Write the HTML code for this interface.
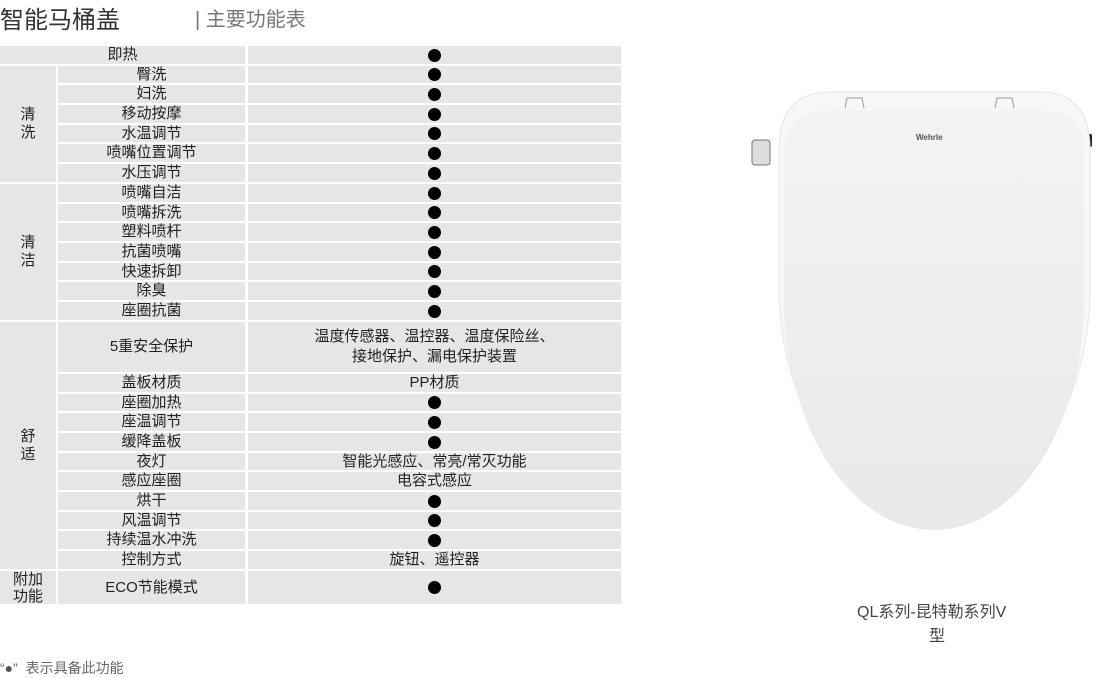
<!DOCTYPE html>
<html><head><meta charset="utf-8"><style>
body{margin:0;width:1100px;height:677px;background:#fff;position:relative;overflow:hidden;font-family:"Liberation Sans","Noto Sans CJK SC",sans-serif;color:#222}
.c{position:absolute;background:#e6e6e6;display:flex;align-items:center;justify-content:center;text-align:center;font-size:15px;line-height:18px}
.d::after{content:"";width:13px;height:13px;border-radius:50%;background:#000}
.t{position:absolute;white-space:nowrap}
</style></head><body>
<div class="t" style="left:0;top:0px;font-size:24px;color:#333">智能马桶盖</div>
<div class="t" style="left:195px;top:3px;font-size:20px;color:#777">| 主要功能表</div>

<div class="c" style="left:0;top:46px;width:245px;height:18px">即热</div>
<div class="c" style="left:0;top:66px;width:56px;height:116px">清<br>洗</div>
<div class="c" style="left:0;top:184px;width:56px;height:136px">清<br>洁</div>
<div class="c" style="left:0;top:322px;width:56px;height:247px">舒<br>适</div>
<div class="c" style="left:0;top:571px;width:56px;height:33px;line-height:17px">附加<br>功能</div>

<div class="c" style="left:58px;top:66px;width:187px;height:17px">臀洗</div>
<div class="c" style="left:58px;top:85px;width:187px;height:18px">妇洗</div>
<div class="c" style="left:58px;top:105px;width:187px;height:18px">移动按摩</div>
<div class="c" style="left:58px;top:125px;width:187px;height:17px">水温调节</div>
<div class="c" style="left:58px;top:144px;width:187px;height:18px">喷嘴位置调节</div>
<div class="c" style="left:58px;top:164px;width:187px;height:18px">水压调节</div>
<div class="c" style="left:58px;top:184px;width:187px;height:18px">喷嘴自洁</div>
<div class="c" style="left:58px;top:204px;width:187px;height:17px">喷嘴拆洗</div>
<div class="c" style="left:58px;top:223px;width:187px;height:18px">塑料喷杆</div>
<div class="c" style="left:58px;top:243px;width:187px;height:18px">抗菌喷嘴</div>
<div class="c" style="left:58px;top:263px;width:187px;height:17px">快速拆卸</div>
<div class="c" style="left:58px;top:282px;width:187px;height:18px">除臭</div>
<div class="c" style="left:58px;top:302px;width:187px;height:18px">座圈抗菌</div>
<div class="c" style="left:58px;top:322px;width:187px;height:50px">5重安全保护</div>
<div class="c" style="left:58px;top:374px;width:187px;height:18px">盖板材质</div>
<div class="c" style="left:58px;top:394px;width:187px;height:17px">座圈加热</div>
<div class="c" style="left:58px;top:413px;width:187px;height:18px">座温调节</div>
<div class="c" style="left:58px;top:433px;width:187px;height:18px">缓降盖板</div>
<div class="c" style="left:58px;top:453px;width:187px;height:17px">夜灯</div>
<div class="c" style="left:58px;top:472px;width:187px;height:18px">感应座圈</div>
<div class="c" style="left:58px;top:492px;width:187px;height:18px">烘干</div>
<div class="c" style="left:58px;top:512px;width:187px;height:17px">风温调节</div>
<div class="c" style="left:58px;top:531px;width:187px;height:18px">持续温水冲洗</div>
<div class="c" style="left:58px;top:551px;width:187px;height:18px">控制方式</div>
<div class="c" style="left:58px;top:571px;width:187px;height:33px">ECO节能模式</div>

<div class="c d" style="left:248px;top:46px;width:373px;height:18px"></div>
<div class="c d" style="left:248px;top:66px;width:373px;height:17px"></div>
<div class="c d" style="left:248px;top:85px;width:373px;height:18px"></div>
<div class="c d" style="left:248px;top:105px;width:373px;height:18px"></div>
<div class="c d" style="left:248px;top:125px;width:373px;height:17px"></div>
<div class="c d" style="left:248px;top:144px;width:373px;height:18px"></div>
<div class="c d" style="left:248px;top:164px;width:373px;height:18px"></div>
<div class="c d" style="left:248px;top:184px;width:373px;height:18px"></div>
<div class="c d" style="left:248px;top:204px;width:373px;height:17px"></div>
<div class="c d" style="left:248px;top:223px;width:373px;height:18px"></div>
<div class="c d" style="left:248px;top:243px;width:373px;height:18px"></div>
<div class="c d" style="left:248px;top:263px;width:373px;height:17px"></div>
<div class="c d" style="left:248px;top:282px;width:373px;height:18px"></div>
<div class="c d" style="left:248px;top:302px;width:373px;height:18px"></div>
<div class="c" style="left:248px;top:322px;width:373px;height:50px;line-height:20px">温度传感器、温控器、温度保险丝、<br>接地保护、漏电保护装置</div>
<div class="c" style="left:248px;top:374px;width:373px;height:18px">PP材质</div>
<div class="c d" style="left:248px;top:394px;width:373px;height:17px"></div>
<div class="c d" style="left:248px;top:413px;width:373px;height:18px"></div>
<div class="c d" style="left:248px;top:433px;width:373px;height:18px"></div>
<div class="c" style="left:248px;top:453px;width:373px;height:17px">智能光感应、常亮/常灭功能</div>
<div class="c" style="left:248px;top:472px;width:373px;height:18px">电容式感应</div>
<div class="c d" style="left:248px;top:492px;width:373px;height:18px"></div>
<div class="c d" style="left:248px;top:512px;width:373px;height:17px"></div>
<div class="c d" style="left:248px;top:531px;width:373px;height:18px"></div>
<div class="c" style="left:248px;top:551px;width:373px;height:18px">旋钮、遥控器</div>
<div class="c d" style="left:248px;top:571px;width:373px;height:33px"></div>

<svg style="position:absolute;left:0;top:0" width="1100" height="677">
<defs><linearGradient id="g" x1="0" y1="0" x2="0" y2="1"><stop offset="0" stop-color="#f3f3f3"/><stop offset="1" stop-color="#e9e9e9"/></linearGradient></defs>
<rect x="752" y="140" width="18" height="25" rx="3" fill="#ddd" stroke="#777"/>
<rect x="1085" y="134" width="7" height="13" rx="2" fill="#222"/>
<path d="M779 150 Q779 92 830 92 L1040 92 Q1090 92 1090 150 L1090 300 A156 235 0 0 1 779 300Z" fill="#f7f7f7" stroke="#e6e6e6"/>
<path d="M784 150 Q786 110 830 110 L1040 110 Q1084 110 1084 150 L1084 300 A150 230 0 0 1 784 300Z" fill="url(#g)"/>
<path d="M845 108 L847 98 L862 98 L864 108" fill="none" stroke="#999"/>
<path d="M995 108 L997 98 L1012 98 L1014 108" fill="none" stroke="#999"/>
<text x="916" y="140" font-family="Liberation Sans" font-size="8" font-weight="bold" fill="#555">Wehrle</text>
</svg>

<div class="t" style="left:857px;top:598px;font-size:16px;color:#444">QL系列-昆特勒系列V</div>
<div class="t" style="left:929px;top:622px;font-size:16px;color:#444">型</div>
<div class="t" style="left:0;top:658px;font-size:14px;color:#666">“<span style="color:#555">●</span>”&nbsp; 表示具备此功能</div>
</body></html>
